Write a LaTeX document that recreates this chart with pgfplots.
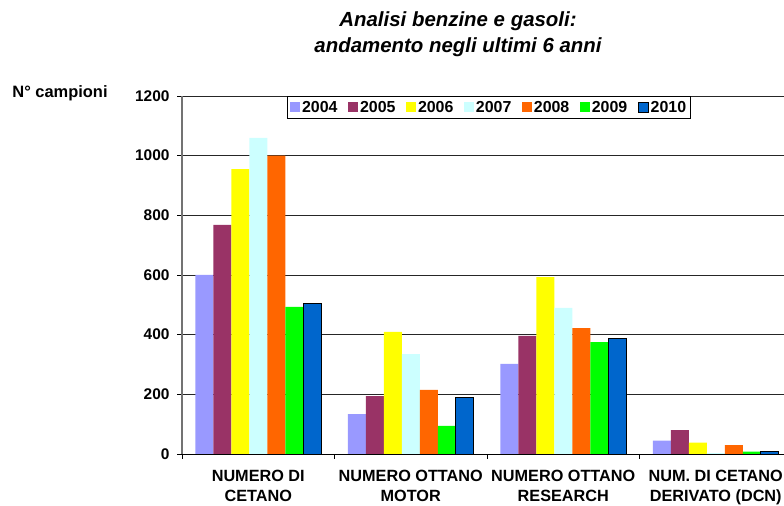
\documentclass[border=0pt]{standalone}
\usepackage{pgfplots}
\pgfplotsset{compat=1.18}
\usepackage{fontspec}
\setmainfont{Liberation Sans}
\definecolor{c04}{HTML}{9999FF}
\definecolor{c05}{HTML}{993366}
\definecolor{c06}{HTML}{FFFF00}
\definecolor{c07}{HTML}{CCFFFF}
\definecolor{c08}{HTML}{FF6600}
\definecolor{c09}{HTML}{00FF00}
\definecolor{c10}{HTML}{0066CC}
\begin{document}
\begin{tikzpicture}[x=1bp,y=1bp]
\path[use as bounding box, clip] (0,0) rectangle (784,506);
\node[font=\bfseries\itshape\fontsize{20.5}{26}\selectfont, align=center] at (458,472) {Analisi benzine e gasoli:\\andamento negli ultimi 6 anni};
\node[font=\bfseries\fontsize{16.5}{18}\selectfont] at (60,413) {N° campioni};
\begin{axis}[
  at={(182bp,52bp)}, anchor=south west,
  scale only axis, width=610bp, height=358bp,
  xmin=-0.5, xmax=3.5, ymin=0, ymax=1200,
  ytick={0,200,...,1200},
  xtick={0,1,2,3},
  xticklabels={{NUMERO DI\\CETANO},{NUMERO OTTANO\\MOTOR},{NUMERO OTTANO\\RESEARCH},{NUM. DI CETANO\\DERIVATO (DCN)}},
  minor xtick={-0.5,0.5,1.5,2.5,3.5},
  major x tick style={draw=none},
  ymajorgrids, grid style={black!85, line width=0.8pt},
  axis x line*=bottom, axis y line*=left,
  x axis line style={-, black, line width=0.9pt},
  y axis line style={-, black!55, line width=1.2pt},
  tick align=outside, tick style={black, line width=0.8pt},
  major tick length=5bp, minor tick length=5bp,
  ticklabel style={font=\bfseries\fontsize{15.5}{20}\selectfont},
  xticklabel style={align=center, yshift=-8bp, font=\bfseries\fontsize{16.3}{20}\selectfont},
  yticklabel style={xshift=-4bp},
  /pgf/number format/assume math mode=true,
  /pgf/number format/1000 sep={},
  ybar=0pt, bar width=18bp,
  legend columns=7,
  legend style={at={(rel axis cs:0.5035,1)}, anchor=north, draw=black, line width=0.8pt,
    font=\bfseries\fontsize{16}{18}\selectfont, inner sep=2.5bp,
    /tikz/every even column/.append style={column sep=8.5bp},
    /tikz/every odd column/.append style={column sep=0bp}},
  legend image code/.code={\path[#1] (0bp,-5bp) rectangle (10bp,5bp);},
]
\addplot[fill=c04, draw=none] coordinates {(0,600) (1,134) (2,302) (3,45)};
\addplot[fill=c05, draw=none] coordinates {(0,768) (1,194) (2,396) (3,80)};
\addplot[fill=c06, draw=none] coordinates {(0,955) (1,409) (2,593) (3,38)};
\addplot[fill=c07, draw=none] coordinates {(0,1060) (1,335) (2,490) (3,3)};
\addplot[fill=c08, draw=none] coordinates {(0,1000) (1,215) (2,422) (3,30)};
\addplot[fill=c09, draw=none] coordinates {(0,493) (1,94) (2,375) (3,8)};
\addplot[fill=c10, draw=black, line width=0.9pt] coordinates {(0,505) (1,191) (2,388) (3,7)};
\legend{2004,2005,2006,2007,2008,2009,2010}
\end{axis}
\end{tikzpicture}
\end{document}
